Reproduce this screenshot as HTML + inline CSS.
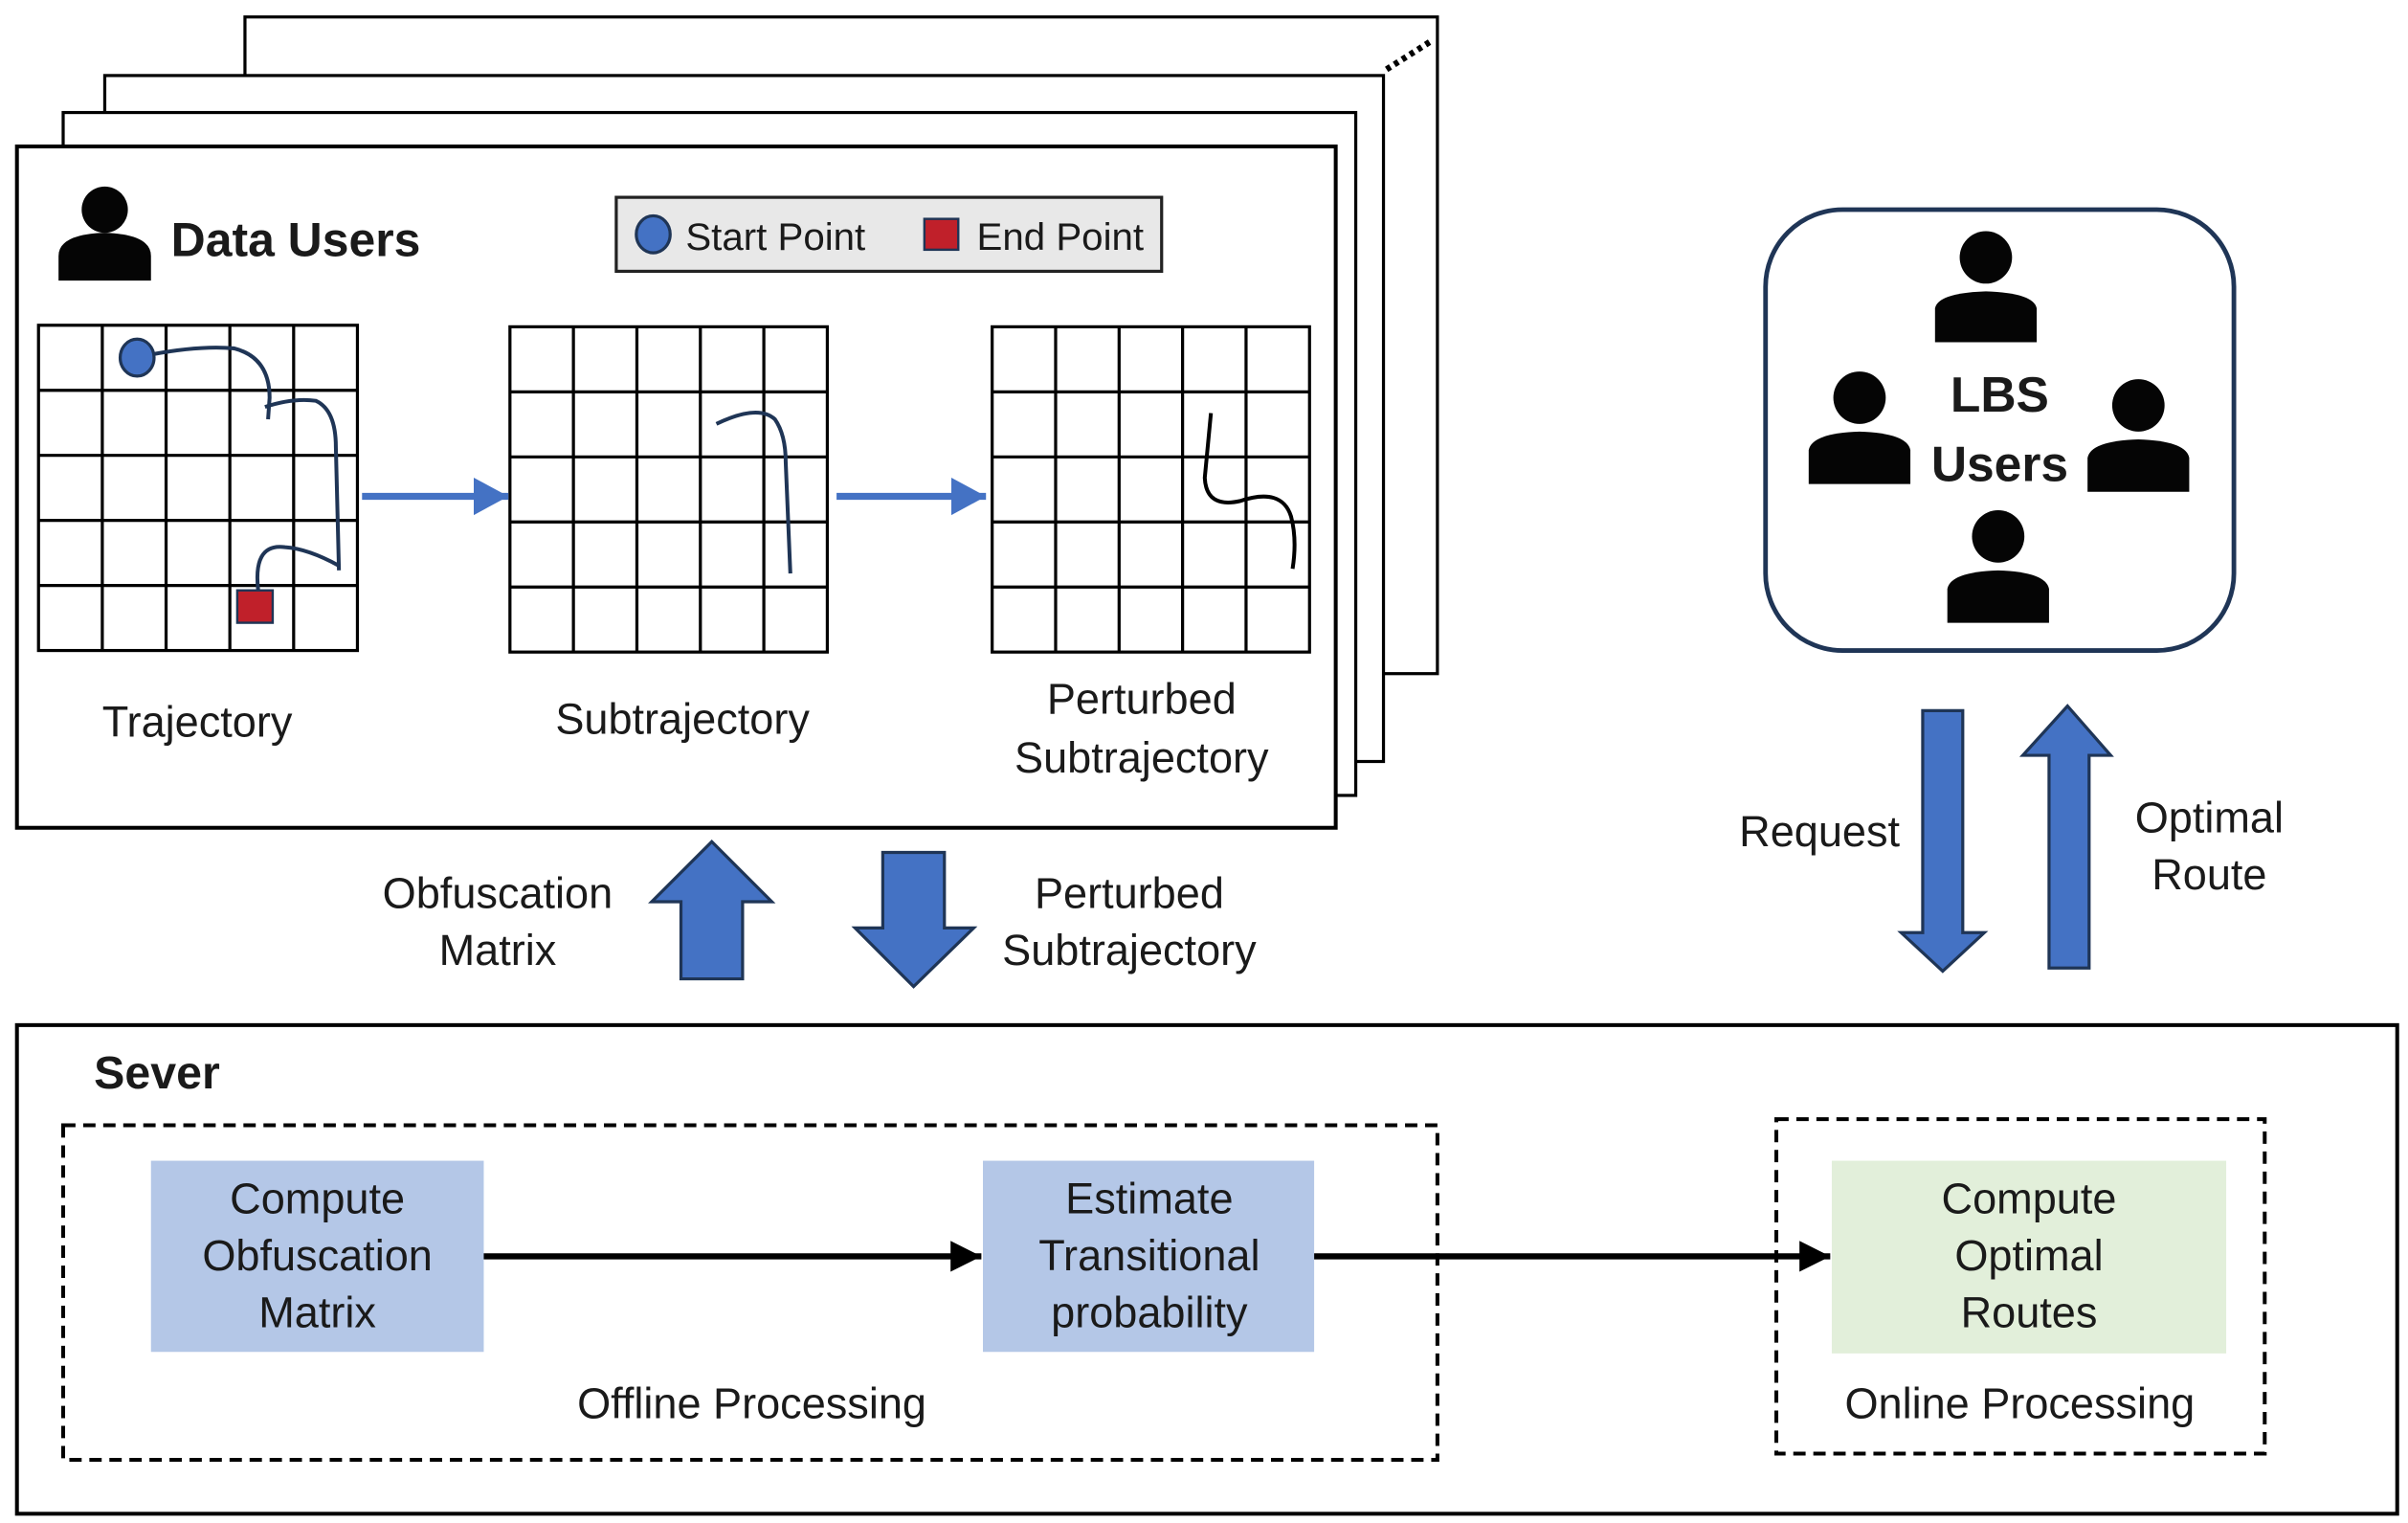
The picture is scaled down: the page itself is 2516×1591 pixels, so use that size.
<!DOCTYPE html>
<html><head><meta charset="utf-8"><style>html,body{margin:0;padding:0;background:#fff}svg{display:block}text{font-family:"Liberation Sans",sans-serif;fill:#1a1a1a}</style></head>
<body>
<svg width="2516" height="1591" viewBox="0 0 1563 988" preserveAspectRatio="none" xmlns="http://www.w3.org/2000/svg">
<defs>
<marker id="bh" markerWidth="6" markerHeight="6" refX="5" refY="3" orient="auto" markerUnits="strokeWidth"><path d="M0,0.3 L5,3 L0,5.7 Z" fill="#4472c4"/></marker>
<marker id="kh" markerWidth="6" markerHeight="6" refX="5" refY="3" orient="auto" markerUnits="strokeWidth"><path d="M0,0.5 L5,3 L0,5.5 Z" fill="#000"/></marker>
</defs>
<g fill="#fff" stroke="#000" stroke-width="2">
<rect x="159" y="11" width="774" height="426"/>
<rect x="68" y="49" width="830" height="445"/>
<rect x="41" y="73" width="839" height="443"/>
<rect x="11" y="95" width="856" height="442" stroke-width="2.5"/>
</g>
<path d="M900 45 L930 26" stroke="#000" stroke-width="4" stroke-dasharray="3 3"/>
<circle cx="68" cy="136" r="15" fill="#050505"/>
<path d="M38 182 V166 Q38 152 68 151 Q98 152 98 166 V182 Z" fill="#050505"/>
<text x="111" y="166" font-size="31" font-weight="bold">Data Users</text>
<rect x="400" y="128" width="354" height="48" fill="#e8e8e8" stroke="#222" stroke-width="2"/>
<ellipse cx="424" cy="152" rx="11" ry="12" fill="#4472c4" stroke="#1f3556" stroke-width="2"/>
<text x="445" y="162" font-size="25">Start Point</text>
<rect x="600" y="142" width="22" height="20" fill="#c0202a" stroke="#1f3556" stroke-width="1.5"/>
<text x="634" y="162" font-size="25">End Point</text>
<g fill="none" stroke="#000" stroke-width="2">
<g transform="translate(25,211)"><rect width="207" height="211"/><path d="M41.4 0V211M82.8 0V211M124.2 0V211M165.6 0V211M0 42.2H207M0 84.4H207M0 126.6H207M0 168.8H207"/></g>
<g transform="translate(331,212)"><rect width="206" height="211"/><path d="M41.2 0V211M82.4 0V211M123.6 0V211M164.8 0V211M0 42.2H206M0 84.4H206M0 126.6H206M0 168.8H206"/></g>
<g transform="translate(644,212)"><rect width="206" height="211"/><path d="M41.2 0V211M82.4 0V211M123.6 0V211M164.8 0V211M0 42.2H206M0 84.4H206M0 126.6H206M0 168.8H206"/></g>
</g>
<g fill="none" stroke="#1f3556" stroke-width="2.5">
<path d="M98 230 Q130 224 152 226 Q175 232 175 258 L174 272"/>
<path d="M172 264 Q190 258 205 260 Q218 266 218 290 L220 370"/>
<path d="M220 367 Q200 356 185 355 Q163 352 168 386"/>
<path d="M465 275 Q492 262 503 272 Q510 282 510 300 L513 372"/>
</g>
<path d="M786 268 L782 310 Q783 330 805 325 Q832 316 838 335 Q842 350 839 369" fill="none" stroke="#000" stroke-width="2.5"/>
<ellipse cx="89" cy="232" rx="11" ry="12" fill="#4472c4" stroke="#1f3556" stroke-width="2"/>
<rect x="154" y="383" width="23" height="21" fill="#c0202a" stroke="#1f3556" stroke-width="1.5"/>
<line x1="235" y1="322" x2="330" y2="322" stroke="#4472c4" stroke-width="4.5" marker-end="url(#bh)"/>
<line x1="543" y1="322" x2="640" y2="322" stroke="#4472c4" stroke-width="4.5" marker-end="url(#bh)"/>
<g font-size="28" text-anchor="middle">
<text x="128" y="478">Trajectory</text>
<text x="443" y="476">Subtrajectory</text>
<text x="741" y="463">Perturbed</text>
<text x="741" y="501">Subtrajectory</text>
<text x="323" y="589">Obfuscation</text>
<text x="323" y="626">Matrix</text>
<text x="733" y="589">Perturbed</text>
<text x="733" y="626">Subtrajectory</text>
<text x="1181" y="549">Request</text>
<text x="1434" y="540">Optimal</text>
<text x="1434" y="577">Route</text>
</g>
<g fill="#4472c4" stroke="#1f3556" stroke-width="2">
<path d="M462 546 L501 585 L482 585 L482 635 L442 635 L442 585 L423 585 Z"/>
<path d="M573 553 L613 553 L613 602 L632 602 L593 640 L555 602 L573 602 Z"/>
<path d="M1248 461 L1274 461 L1274 605 L1288 605 L1261 630 L1234 605 L1248 605 Z"/>
<path d="M1342 458 L1370 490 L1356 490 L1356 628 L1330 628 L1330 490 L1313 490 Z"/>
</g>
<rect x="1146" y="136" width="304" height="286" rx="50" fill="#fff" stroke="#1f3556" stroke-width="3"/>
<g fill="#050505">
<circle cx="1289" cy="167" r="17"/><path d="M1256 222 V200 Q1258 190 1289 189 Q1320 190 1322 200 V222 Z"/>
<circle cx="1207" cy="258" r="17"/><path d="M1174 314 V292 Q1176 281 1207 280 Q1238 281 1240 292 V314 Z"/>
<circle cx="1388" cy="263" r="17"/><path d="M1355 319 V297 Q1357 286 1388 285 Q1419 286 1421 297 V319 Z"/>
<circle cx="1297" cy="348" r="17"/><path d="M1264 404 V382 Q1266 371 1297 370 Q1328 371 1330 382 V404 Z"/>
</g>
<g font-size="32" font-weight="bold" text-anchor="middle"><text x="1298" y="267">LBS</text><text x="1298" y="312">Users</text></g>
<rect x="11" y="665" width="1545" height="317" fill="none" stroke="#000" stroke-width="2.5"/>
<text x="61" y="706" font-size="30" font-weight="bold">Sever</text>
<rect x="41" y="730" width="892" height="217" fill="none" stroke="#000" stroke-width="2.5" stroke-dasharray="8 5"/>
<rect x="1153" y="726" width="317" height="217" fill="none" stroke="#000" stroke-width="2.5" stroke-dasharray="8 5"/>
<rect x="98" y="753" width="216" height="124" fill="#b4c7e7"/>
<rect x="638" y="753" width="215" height="124" fill="#b4c7e7"/>
<rect x="1189" y="753" width="256" height="125" fill="#e2efda"/>
<line x1="314" y1="815" x2="637" y2="815" stroke="#000" stroke-width="4" marker-end="url(#kh)"/>
<line x1="853" y1="815" x2="1188" y2="815" stroke="#000" stroke-width="4" marker-end="url(#kh)"/>
<g font-size="28" text-anchor="middle">
<text x="206" y="787">Compute</text><text x="206" y="824">Obfuscation</text><text x="206" y="861">Matrix</text>
<text x="746" y="787">Estimate</text><text x="746" y="824">Transitional</text><text x="746" y="861">probability</text>
<text x="1317" y="787">Compute</text><text x="1317" y="824">Optimal</text><text x="1317" y="861">Routes</text>
<text x="488" y="920">Offline Processing</text>
<text x="1311" y="920">Online Processing</text>
</g>
</svg>
</body></html>
